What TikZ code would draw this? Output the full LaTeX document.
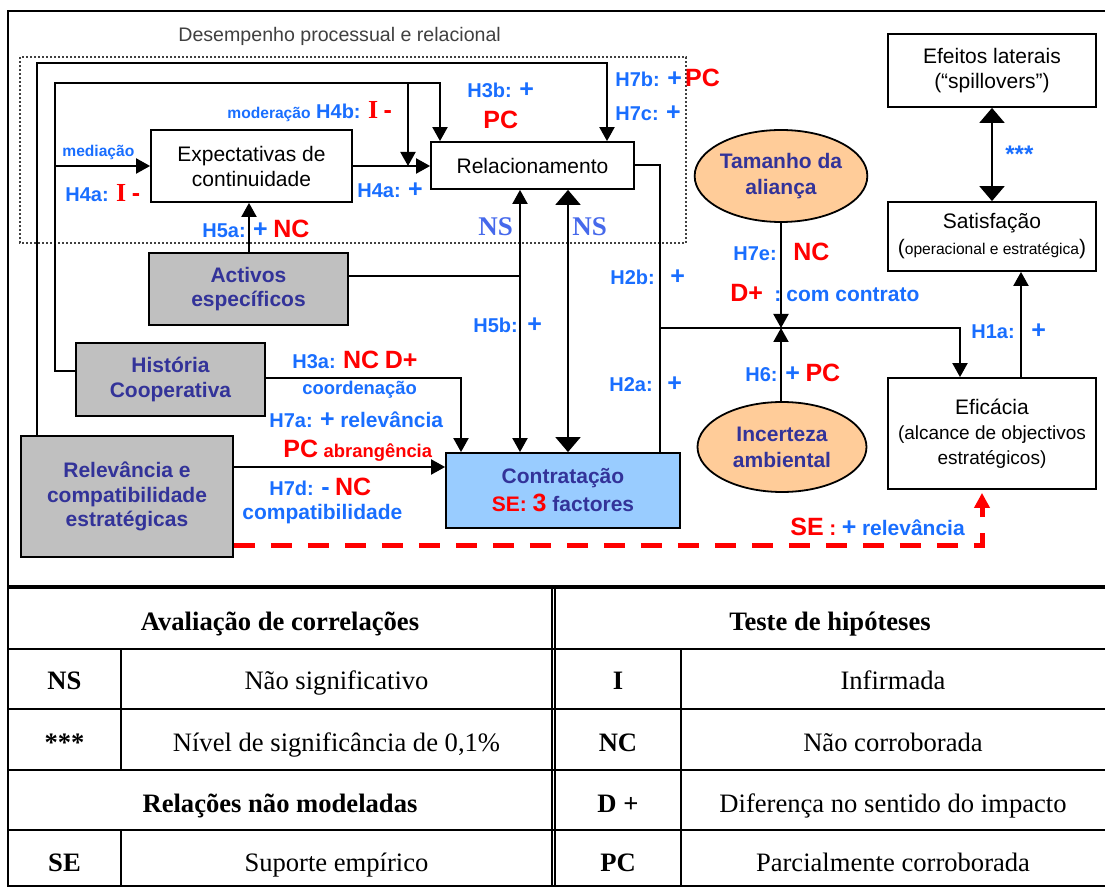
\documentclass[tikz,border=0pt]{standalone}
\usepackage{fontspec}
\setmainfont{Liberation Sans}
\newfontfamily\tnr{Liberation Serif}
\usetikzlibrary{arrows.meta,shapes.geometric}
\definecolor{labblue}{RGB}{25,110,255}
\definecolor{nsblue}{RGB}{70,105,235}
\definecolor{nodeblue}{RGB}{51,51,153}
\definecolor{boxgray}{RGB}{192,192,192}
\definecolor{conblue}{RGB}{153,204,255}
\definecolor{ellorange}{RGB}{255,204,153}
\definecolor{labred}{RGB}{255,0,0}
\newcommand{\fsz}[1]{\fontsize{#1}{#1}\selectfont}
\newcommand{\lbH}[1]{{\color{labblue}\bfseries\fsz{10}#1}}
\newcommand{\lbM}[1]{{\color{labblue}\bfseries\fsz{10.5}#1}}
\newcommand{\lbP}{{\color{labblue}\bfseries\fsz{12.5}+}}
\newcommand{\lbR}[1]{{\color{labred}\bfseries\fsz{12.5}#1}}
\newcommand{\lbI}{{\color{labred}\tnr\bfseries\fsz{13}I}}
\newcommand{\lbS}[1]{{\color{labblue}\bfseries\fsz{7.8}#1}}
\begin{document}
\begin{tikzpicture}[x=0.5pt,y=-0.5pt,
  box/.style={draw, line width=0.9pt, align=center, inner sep=1pt, font=\fontsize{10.5}{12.5}\selectfont},
  gbox/.style={box, fill=boxgray, text=nodeblue, font=\fontsize{10.5}{12.2}\selectfont\bfseries},
  ell/.style={ellipse, draw, line width=0.9pt, fill=ellorange, text=nodeblue, align=center, inner sep=0pt, font=\fontsize{10.5}{13}\selectfont\bfseries},
  conn/.style={line width=1pt},
  arr/.style={conn, -{Triangle[length=7pt,width=7.5pt]}},
  arrs/.style={conn, {Triangle[length=7pt,width=7.5pt]}-{Triangle[length=7pt,width=7.5pt]}},
  arrL/.style={conn, {Triangle[length=7.5pt,width=12.5pt]}-{Triangle[length=7.5pt,width=12.5pt]}},
  lab/.style={anchor=base west, inner sep=0pt},
  tcell/.style={anchor=base, inner sep=0pt, font=\tnr\fontsize{13.3}{15}\selectfont},
  tline/.style={line width=1pt},
]
\useasboundingbox (0,0) rectangle (1105,887);
\clip (0,0) rectangle (1105,887);

% frame
\draw[line width=0.7pt] (1110,11) -- (8,11) -- (8,887);
\draw[line width=2pt] (8,587) -- (1110,587);

% dotted group
\draw[line width=0.9pt, black!75, dash pattern=on 1pt off 1pt] (20,57) rectangle (686,243);
\node[lab, text=black!75, font=\fontsize{9.8}{11}\selectfont] (dlab) at (178,42) {Desempenho processual e relacional};

% nodes
\node[box, minimum width=100.5pt, minimum height=36pt] (exp) at (251.5,166) {Expectativas de\\continuidade};
\node[box, minimum width=101.5pt, minimum height=23.5pt] (rel) at (532.5,165.5) {Relacionamento};
\node[gbox, minimum width=99.5pt, minimum height=36pt] (act) at (248.5,289) {Activos\\específicos};
\node[gbox, minimum width=94.5pt, minimum height=36.5pt] (his) at (170.5,379.5) {História\\Cooperativa};
\node[gbox, minimum width=106pt, minimum height=60.5pt] (rev) at (127,496.5) {Relevância e\\compatibilidade\\estratégicas};
\node[box, fill=conblue, text=nodeblue, minimum width=117pt, minimum height=37.5pt, font=\fontsize{10.5}{14}\selectfont\bfseries] (con) at (563,490.5)
  {Contratação\\{\color{labred}SE: {\fsz{12.5}3}} factores};
\node[ell, minimum width=84pt, minimum height=46pt] (tam) at (781,176) {Tamanho da\\aliança};
\node[ell, minimum width=84.5pt, minimum height=45pt] (inc) at (782,447) {Incerteza\\ambiental};
\node[box, minimum width=104pt, minimum height=36.5pt] (efe) at (992,70.5) {Efeitos laterais\\(“spillovers”)};
\node[box, minimum width=104pt, minimum height=34.5pt, font=\fontsize{10.5}{13}\selectfont] (sat) at (992,236.5) {Satisfação\\({\fsz{7.8}operacional e estratégica})};
\node[box, minimum width=104pt, minimum height=55.5pt] (efi) at (992,433.5) {Eficácia\\{\fsz{9.5}(alcance de objectivos}\\{\fsz{9.5}estratégicos)}};

% connectors
\draw[arr] (exp.east) -- (rel.west |- exp.east);
\draw[arr] (249,0 |- act.north) -- (249,0 |- exp.south);
\draw[arr] (his.west |- 0,371) -- (55,371) -- (55,83) -- (440,83) -- (440,0 |- rel.north);
\draw[arr] (408,83) -- (408,166);
\draw[arr] (55,0 |- exp.west) -- (exp.west);
\draw[arr] (37,0 |- rev.north) -- (37,63) -- (607,63) -- (607,0 |- rel.north);
\draw[conn] (act.east |- 0,276) -- (520,276);
\draw[arrs] (520,0 |- rel.south) -- (520,0 |- con.north);
\draw[arrL] (568,0 |- rel.south) -- (568,0 |- con.north);
\draw[conn] (rel.east) -- (660,0 |- rel.east) -- (660,0 |- con.north);
\coordinate (jn) at (781,328);
\draw[arr] (660,328) -- (960,328) -- (960,0 |- efi.north);
\draw[arr] (tam.south) -- (jn);
\draw[arr] (jn |- inc.north) -- (jn);
\draw[arr] (1021,0 |- efi.north) -- (1021,0 |- sat.south);
\draw[arrL] (efe.south) -- (sat.north);
\draw[arr] (his.east |- 0,378) -- (461,378) -- (461,0 |- con.north);
\draw[arr] (rev.east |- 0,467) -- (con.west |- 0,467);
\draw[labred, line width=2.5pt, dash pattern=on 10.5pt off 8pt, -{Triangle[length=7.5pt,width=7.5pt]}, shorten >=1.5pt]
  (rev.east |- 0,546) -- (982,546) -- (982,0 |- efi.south);

% labels
\node[lab] (l1) at (62,157) {\lbS{mediação}};
\node[lab] (l2) at (65,202) {\lbH{H4a:} \lbI\ \lbR{-}};
\node[lab] (l3) at (227,119) {\lbS{moderação} \lbH{H4b:} \lbI\ \lbR{-}};
\node[lab] (l4) at (357,198) {\lbH{H4a:} \lbP};
\node[lab] (l5) at (467,98) {\lbH{H3b:} \lbP};
\node[lab] (l6) at (483,129) {\lbR{PC}};
\node[lab] (l7) at (615,87) {\lbH{H7b:} \lbP\,\lbR{PC}};
\node[lab] (l8) at (615,121) {\lbH{H7c:} \lbP};
\node[lab] (l9) at (202,238) {\lbH{H5a:} \lbP\ \lbR{NC}};
\node[lab, text=nsblue, font=\tnr\bfseries\fsz{13.5}] (ns1) at (478,236) {NS};
\node[lab, text=nsblue, font=\tnr\bfseries\fsz{13.5}] (ns2) at (572,236) {NS};
\node[lab] (l10) at (610,285) {\lbH{H2b:}};
\node[lab] (l10p) at (670,285) {\lbP};
\node[lab] (l11) at (609,392) {\lbH{H2a:}};
\node[lab] (l11p) at (667,392) {\lbP};
\node[lab] (l12) at (473,333) {\lbH{H5b:}};
\node[lab] (l12p) at (527,333) {\lbP};
\node[lab] (l13) at (733,261) {\lbH{H7e:}};
\node[lab] (l13r) at (793,261) {\lbR{NC}};
\node[lab] (l14) at (730,302) {\lbR{D+}};
\node[lab] (l14b) at (774,302) {\lbM{:}};
\node[lab] (l14c) at (786,302) {\lbM{com contrato}};
\node[lab] (l15) at (745,382) {\lbH{H6:}};
\node[lab] (l15b) at (785,382) {\lbP\ \lbR{PC}};
\node[lab] (l16) at (971,339) {\lbH{H1a:}};
\node[lab] (l16p) at (1031,339) {\lbP};
\node[anchor=west, inner sep=0pt] (l17) at (1005,154) {{\color{labblue}\bfseries\fsz{12}***}};
\node[lab] (l18) at (292,369) {\lbH{H3a:} \lbR{NC}\ \lbR{D+}};
\node[lab] (l19) at (302,395) {{\color{labblue}\bfseries\fsz{9.2}coordenação}};
\node[lab] (l20) at (269,428) {\lbH{H7a:} \lbP\ \lbM{relevância}};
\node[lab] (l21) at (283,458) {\lbR{PC} {\color{labred}\bfseries\fsz{9.2}abrangência}};
\node[lab] (l22) at (269,496) {\lbH{H7d:} {\color{labblue}\bfseries\fsz{12.5}-}\ \lbR{NC}};
\node[lab] (l23) at (242,520) {\lbM{compatibilidade}};
\node[lab] (l24) at (790,536) {\lbR{SE} {\color{labred}\bfseries\fsz{10.5}:} \lbP\ \lbM{relevância}};

% table
\foreach \yy in {649,709,770,830,886} \draw[tline] (8,\yy) -- (1110,\yy);
\draw[line width=0.6pt] (552,587) -- (552,887);
\draw[line width=0.6pt] (555,587) -- (555,887);
\draw[tline] (121,649) -- (121,770);
\draw[tline] (121,830) -- (121,887);
\draw[tline] (681,649) -- (681,887);

\node[tcell, font=\tnr\bfseries\fontsize{13.3}{15}\selectfont] (t1) at (280,631) {Avaliação de correlações};
\node[tcell, font=\tnr\bfseries\fontsize{13.3}{15}\selectfont] (t2) at (830,631) {Teste de hipóteses};
\node[tcell, font=\tnr\bfseries\fontsize{13.3}{15}\selectfont] (t3) at (64.5,690) {NS};
\node[tcell] (t4) at (336.5,690) {Não significativo};
\node[tcell, font=\tnr\bfseries\fontsize{13.3}{15}\selectfont] (t5) at (618,690) {I};
\node[tcell] (t6) at (893,690) {Infirmada};
\node[tcell, font=\tnr\bfseries\fontsize{13.3}{15}\selectfont] (t7) at (64.5,752) {***};
\node[tcell] (t8) at (336.5,752) {Nível de significância de 0,1\%};
\node[tcell, font=\tnr\bfseries\fontsize{13.3}{15}\selectfont] (t9) at (618,752) {NC};
\node[tcell] (t10) at (893,752) {Não corroborada};
\node[tcell, font=\tnr\bfseries\fontsize{13.3}{15}\selectfont] (t11) at (280,813) {Relações não modeladas};
\node[tcell, font=\tnr\bfseries\fontsize{13.3}{15}\selectfont] (t12) at (618,813) {D +};
\node[tcell] (t13) at (893,813) {Diferença no sentido do impacto};
\node[tcell, font=\tnr\bfseries\fontsize{13.3}{15}\selectfont] (t14) at (64.5,872) {SE};
\node[tcell] (t15) at (336.5,872) {Suporte empírico};
\node[tcell, font=\tnr\bfseries\fontsize{13.3}{15}\selectfont] (t16) at (618,872) {PC};
\node[tcell] (t17) at (893,872) {Parcialmente corroborada};
\end{tikzpicture}
\end{document}
